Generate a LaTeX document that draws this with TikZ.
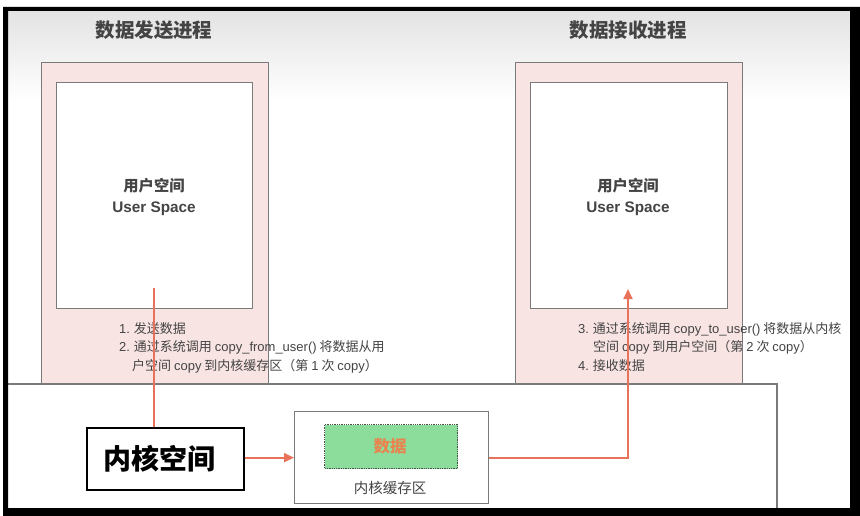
\documentclass[tikz,border=0pt]{standalone}
\usepackage{fontspec}
\setmainfont{Noto Sans CJK SC}
\newfontfamily\lat{Liberation Sans}
\usetikzlibrary{arrows.meta}
\definecolor{pinkfill}{HTML}{F9E4E4}
\definecolor{boxline}{HTML}{7A7A7A}
\definecolor{arr}{HTML}{E8735A}
\definecolor{greenfill}{HTML}{8CDC9C}
\definecolor{txt}{HTML}{444444}
\definecolor{datatxt}{HTML}{E8844F}
\tikzset{
  procbox/.style={draw=boxline, line width=1.3pt, fill=pinkfill},
  userbox/.style={draw=boxline, line width=1.3pt, fill=white},
  title/.style={font=\fontsize{19.5}{22}\selectfont\bfseries, text=txt},
  usertxt/.style={font=\fontsize{15.3}{21}\selectfont\bfseries, text=txt, align=center},
  note/.style={font=\fontsize{13}{14}\selectfont, text=txt, anchor=west, inner sep=0pt},
  flow/.style={draw=arr, line width=1.8pt},
  tip/.style={-{Triangle[length=10pt,width=9pt]}},
}
\begin{document}
\begin{tikzpicture}[x=1pt,y=-1pt]
\useasboundingbox (0,0) rectangle (860,516);
% background
\fill[white] (0,0) rectangle (860,516);
\shade[top color=black!11, bottom color=white] (8,11) rectangle (850,100);
% kernel area
\draw[boxline, line width=1.3pt, fill=white] (6,384) -- (777,384) -- (777,520);
% process boxes
\node[procbox, minimum width=227pt, minimum height=321pt, anchor=north west, inner sep=0pt] (sendproc) at (41,62) {};
\node[procbox, minimum width=227pt, minimum height=321pt, anchor=north west, inner sep=0pt] (recvproc) at (515,62) {};
\node[userbox, minimum width=196pt, minimum height=226pt, anchor=north west, inner sep=0pt] (senduser) at (56,82) {};
\node[userbox, minimum width=197pt, minimum height=226pt, anchor=north west, inner sep=0pt] (recvuser) at (530,82) {};
\draw[boxline, line width=1.3pt] (6,384) -- (777,384);
% titles
\node[title] (sendtitle) at (154,30) {数据发送进程};
\node[title] (recvtitle) at (628,30) {数据接收进程};
% user space labels
\node[usertxt] (sendlbl) at (154,197) {用户空间\\{\lat\bfseries User Space}};
\node[usertxt] (recvlbl) at (628,197) {用户空间\\{\lat\bfseries User Space}};
% notes
\node[note] (n1) at (119,329) {{\lat 1.} 发送数据};
\node[note] (n2) at (119,347.5) {{\lat 2.} 通过系统调用 {\lat copy\_from\_user()} 将数据从用};
\node[note] (n3) at (132,366) {户空间 {\lat copy} 到内核缓存区（第 {\lat 1} 次 {\lat copy}）};
\node[note] (n4) at (578,329) {{\lat 3.} 通过系统调用 {\lat copy\_to\_user()} 将数据从内核};
\node[note] (n5) at (593,347.5) {空间 {\lat copy} 到用户空间（第 {\lat 2} 次 {\lat copy}）};
\node[note] (n6) at (578,366) {{\lat 4.} 接收数据};
% kernel buffer
\node[draw=boxline, line width=1.3pt, fill=white, minimum width=194pt, minimum height=92pt, anchor=north west, inner sep=0pt] (buffer) at (294,411) {};
\node[draw=black!70, densely dotted, line width=1.3pt, fill=greenfill, minimum width=133pt, minimum height=44pt, anchor=north west, inner sep=0pt] (data) at (324,424) {};
\node[font=\fontsize{16.5}{18}\selectfont\bfseries, text=datatxt] (datalbl) at (390,446) {数据};
\node[font=\fontsize{14.5}{16}\selectfont, text=txt] (buflbl) at (390,488) {内核缓存区};
% connectors
\coordinate (sendstart) at (154,288);
\coordinate (recvend) at (628,289);
\draw[flow, tip, arr] (sendstart) |- (buffer.west);
\draw[flow, tip, arr] (buffer.east) -| (recvend);
% kernel space label
\node[draw=black, line width=1.6pt, fill=white, minimum width=157pt, minimum height=62pt, anchor=north west, inner sep=0pt] (kernel) at (86,427) {};
\node[font=\fontsize{28}{30}\selectfont\bfseries] (kerneltxt) at (159,459) {内核空间};
% frame
\fill[black, even odd rule] (3,7) rectangle (860,516) (8,11) rectangle (850,508);
\end{tikzpicture}
\end{document}
